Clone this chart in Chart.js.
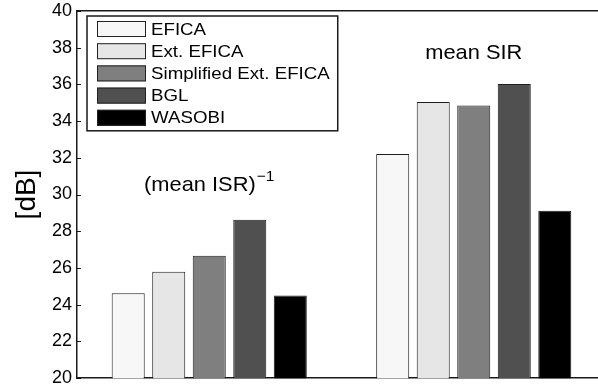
<!DOCTYPE html>
<html>
<head>
<meta charset="utf-8">
<script src="https://cdn.jsdelivr.net/npm/chart.js@4.4.1/dist/chart.umd.min.js"></script>
<style>
    html, body { margin: 0; padding: 0; background: #fff; overflow: hidden; }
    #wrap { width: 606px; height: 399px; margin-top: -5px; }
</style>
</head>
<body>
<div id="wrap"><canvas id="chart"></canvas></div>
<script>
// --- DATA ---
const groups = ['(mean ISR)^-1', 'mean SIR'];
const methods = ['EFICA', 'Ext. EFICA', 'Simplified Ext. EFICA', 'BGL', 'WASOBI'];
const efica = [24.63, 32.21];
const extEfica = [25.80, 35.04];
const simplifiedExtEfica = [26.66, 34.84];
const bgl = [28.62, 36.02];
const wasobi = [24.50, 29.12];
const yTicks = [20, 22, 24, 26, 28, 30, 32, 34, 36, 38, 40];

// --- STYLE ---
const fills = ['#f7f7f7', '#e6e6e6', '#7f7f7f', '#505050', '#000000'];
const axisColor = '#1a1a1a';
const fontFamily = '"Liberation Sans", Arial, Helvetica, sans-serif';

const seriesValues = [efica, extEfica, simplifiedExtEfica, bgl, wasobi];

// text that is a little wider than the font (the source figure was stretched)
const wideText = (ctx, str, px, py, sx) => {
    ctx.save();
    ctx.translate(px, py);
    ctx.scale(sx, 1);
    ctx.fillText(str, 0, 0);
    ctx.restore();
};

// frame top edge, inward ticks, group captions and boxed legend
const frameAndLabels = {
    id: 'frameAndLabels',
    afterDraw(chart) {
        const { ctx, chartArea: a, scales: { x, y } } = chart;
        ctx.save();

        // top edge of the axes box
        ctx.strokeStyle = axisColor;
        ctx.lineWidth = 1.5;
        ctx.beginPath();
        ctx.moveTo(a.left, a.top);
        ctx.lineTo(a.right, a.top);
        ctx.stroke();

        // tick marks pointing into the plot
        ctx.lineWidth = 1;
        y.ticks.forEach(t => {
            const py = Math.round(y.getPixelForValue(t.value)) + 0.5;
            ctx.beginPath();
            ctx.moveTo(a.left, py);
            ctx.lineTo(a.left + 4, py);
            ctx.stroke();
        });

        // group captions
        ctx.fillStyle = '#000';
        ctx.textBaseline = 'alphabetic';
        ctx.textAlign = 'left';
        const capScale = 1.04;
        const mainFont = `21px ${fontFamily}`;
        const supFont = `15px ${fontFamily}`;

        // (mean ISR)^-1
        ctx.font = mainFont;
        const base = '(mean ISR)';
        const wBase = ctx.measureText(base).width * capScale;
        ctx.font = supFont;
        const sup = '\u22121';
        const wSup = ctx.measureText(sup).width * capScale;
        const cx1 = x.getPixelForValue(0);
        const by1 = y.getPixelForValue(30.2);
        const sx = cx1 - (wBase + wSup + 1) / 2;
        ctx.font = mainFont;
        wideText(ctx, base, sx, by1, capScale);
        ctx.font = supFont;
        wideText(ctx, sup, sx + wBase + 1, by1 - 10, capScale);

        // mean SIR
        ctx.font = mainFont;
        const wSir = ctx.measureText('mean SIR').width * capScale;
        wideText(ctx, 'mean SIR', x.getPixelForValue(1) - wSir / 2, y.getPixelForValue(37.4), capScale);

        // legend box
        const legScale = 1.1;
        ctx.font = `17px ${fontFamily}`;
        const bx = a.left + 10, byTop = a.top + 5.2;
        const rowH = 22.2, swW = 49, swH = 16, textOff = 64;
        const n = chart.data.datasets.length;
        const maxText = Math.max(...chart.data.datasets.map(d => ctx.measureText(d.label).width)) * legScale;
        const bw = textOff + maxText + 8;
        const bh = 13 + (n - 1) * rowH + swH / 2 + 5;
        ctx.fillStyle = '#fff';
        ctx.fillRect(bx, byTop, bw, bh);
        ctx.strokeStyle = axisColor;
        ctx.lineWidth = 1.5;
        ctx.strokeRect(bx, byTop, bw, bh);

        ctx.textBaseline = 'middle';
        chart.data.datasets.forEach((d, i) => {
            const cy = byTop + 13 + i * rowH;
            ctx.fillStyle = d.backgroundColor;
            ctx.fillRect(bx + 10, cy - swH / 2, swW, swH);
            ctx.strokeStyle = '#222';
            ctx.lineWidth = 1;
            ctx.strokeRect(bx + 10.5, cy - swH / 2 + 0.5, swW - 1, swH - 1);
            ctx.fillStyle = '#000';
            wideText(ctx, d.label, bx + textOff, cy + 1, legScale);
        });

        ctx.restore();
    }
};

new Chart(document.getElementById('chart'), {
    type: 'bar',
    data: {
        labels: groups,
        datasets: methods.map((name, i) => ({
            label: name,
            data: seriesValues[i],
            backgroundColor: fills[i],
            borderColor: '#1e1e1e',
            borderWidth: 1,
            borderSkipped: 'bottom',
            categoryPercentage: 0.766,
            barPercentage: 0.815
        }))
    },
    options: {
        responsive: true,
        maintainAspectRatio: false,
        animation: false,
        layout: { padding: 0 },
        plugins: {
            legend: { display: false },
            tooltip: { enabled: false }
        },
        scales: {
            x: {
                type: 'category',
                ticks: { display: false },
                grid: { display: false, drawTicks: false },
                border: { display: true, color: axisColor, width: 1.5 }
            },
            y: {
                min: 20,
                max: 40,
                afterBuildTicks: scale => { scale.ticks = yTicks.map(v => ({ value: v })); },
                afterFit: scale => { scale.width = 77; },
                ticks: {
                    color: '#000',
                    padding: 5,
                    font: { family: fontFamily, size: 18 }
                },
                grid: { display: false, drawTicks: false },
                border: { display: true, color: axisColor, width: 1.5 },
                title: {
                    display: true,
                    text: '[dB]',
                    color: '#000',
                    font: { family: fontFamily, size: 28 },
                    padding: { top: 10, bottom: 0 }
                }
            }
        }
    },
    plugins: [frameAndLabels]
});
</script>
</body>
</html>
